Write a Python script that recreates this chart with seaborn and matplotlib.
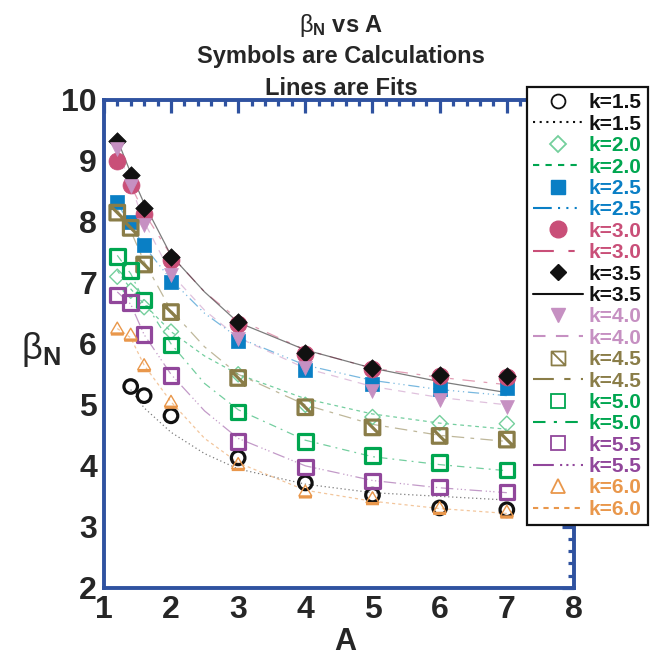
import numpy as np
import pandas as pd
import matplotlib
matplotlib.use("Agg")
import matplotlib.pyplot as plt
from matplotlib.path import Path
from matplotlib.lines import Line2D
from matplotlib.ticker import MultipleLocator
import seaborn as sns

sns.set_style("white")
plt.rcParams['font.family'] = ['Liberation Sans', 'DejaVu Sans']
plt.rcParams['mathtext.fontset'] = 'custom'
plt.rcParams['mathtext.rm'] = 'Liberation Sans'
plt.rcParams['mathtext.bf'] = 'Liberation Sans:bold'
plt.rcParams['mathtext.it'] = 'Liberation Sans:italic'

# ---------------- data ----------------
k_labels = ["k=1.5", "k=2.0", "k=2.5", "k=3.0", "k=3.5",
            "k=4.0", "k=4.5", "k=5.0", "k=5.5", "k=6.0"]
A_pts = [1.2, 1.4, 1.6, 2.0, 3.0, 4.0, 5.0, 6.0, 7.0]
beta_k15 = [np.nan, 5.30, 5.15, 4.82, 4.13, 3.72, 3.52, 3.31, 3.28]
beta_k20 = [7.10, 6.87, 6.60, 6.20, 5.50, 5.00, 4.80, 4.70, 4.69]
beta_k25 = [8.33, 8.00, 7.62, 7.02, 6.05, 5.57, 5.34, 5.26, 5.28]
beta_k30 = [9.00, 8.60, 8.12, 7.38, 6.33, 5.83, 5.58, 5.47, 5.46]
beta_k35 = [9.33, 8.77, 8.23, 7.42, 6.35, 5.85, 5.60, 5.49, 5.47]
beta_k40 = [9.20, 8.58, 7.95, 7.13, 6.08, 5.60, 5.22, 5.08, 4.97]
beta_k45 = [8.15, 7.90, 7.30, 6.52, 5.44, 4.96, 4.63, 4.49, 4.43]
beta_k50 = [7.43, 7.20, 6.72, 5.98, 4.88, 4.40, 4.17, 4.05, 3.93]
beta_k55 = [6.80, 6.68, 6.15, 5.48, 4.40, 3.98, 3.75, 3.65, 3.57]
beta_k60 = [6.25, 6.15, 5.65, 5.05, 4.03, 3.58, 3.47, 3.31, 3.25]

A_fit = [1.2, 1.4, 1.6, 2.0, 2.5, 3.0, 4.0, 5.0, 6.0, 7.0]
fit_k15 = [np.nan, 5.25, 4.95, 4.55, 4.20, 3.95, 3.70, 3.56, 3.50, 3.44]
fit_k20 = [7.20, 6.90, 6.65, 6.20, 5.80, 5.50, 5.10, 4.85, 4.70, 4.60]
fit_k25 = [8.30, 7.95, 7.60, 7.05, 6.50, 6.10, 5.65, 5.40, 5.25, 5.15]
fit_k30 = [9.05, 8.60, 8.15, 7.45, 6.85, 6.40, 5.90, 5.60, 5.45, 5.33]
fit_k35 = [9.35, 8.80, 8.30, 7.45, 6.85, 6.35, 5.90, 5.60, 5.38, 5.20]
fit_k40 = [9.20, 8.60, 8.00, 7.15, 6.55, 6.10, 5.60, 5.30, 5.12, 5.00]
fit_k45 = [8.20, 7.85, 7.35, 6.55, 5.95, 5.50, 5.00, 4.68, 4.50, 4.40]
fit_k50 = [7.45, 7.15, 6.70, 6.00, 5.35, 4.92, 4.42, 4.15, 4.02, 3.92]
fit_k55 = [6.85, 6.65, 6.15, 5.50, 4.90, 4.45, 4.00, 3.76, 3.64, 3.56]
fit_k60 = [6.25, 6.10, 5.65, 5.05, 4.45, 4.05, 3.60, 3.42, 3.30, 3.22]

x_ticks = [1, 2, 3, 4, 5, 6, 7, 8]
y_ticks = [2, 3, 4, 5, 6, 7, 8, 9, 10]

pts = [beta_k15, beta_k20, beta_k25, beta_k30, beta_k35,
       beta_k40, beta_k45, beta_k50, beta_k55, beta_k60]
fits = [fit_k15, fit_k20, fit_k25, fit_k30, fit_k35,
        fit_k40, fit_k45, fit_k50, fit_k55, fit_k60]

# ---------------- styles ----------------
line_colors = ["#111111", "#00a650", "#0a7fc5", "#c94f78", "#111111",
               "#c690c2", "#8a7d48", "#00a650", "#91479b", "#e9974b"]
marker_colors = ["#111111", "#74cf9c", "#0a7fc5", "#c94f78", "#111111",
                 "#c690c2", "#8a7d48", "#00a650", "#91479b", "#e9974b"]
text_colors = ["#111111", "#00a650", "#0a7fc5", "#c94f78", "#111111",
               "#c690c2", "#8a7d48", "#00a650", "#91479b", "#e9974b"]

sq_diag = Path([(-1, -1), (1, -1), (1, 1), (-1, 1), (-1, -1), (-1, 1), (1, -1)],
               [Path.MOVETO, Path.LINETO, Path.LINETO, Path.LINETO, Path.CLOSEPOLY,
                Path.MOVETO, Path.LINETO])
tri_bar = Path([(0, 1), (-1, -0.7), (1, -0.7), (0, 1),
                (-1, -0.85), (1, -0.85), (-1, -1.0), (1, -1.0)],
               [Path.MOVETO, Path.LINETO, Path.LINETO, Path.CLOSEPOLY,
                Path.MOVETO, Path.LINETO, Path.MOVETO, Path.LINETO])

markers = ["o", "D", "s", "o", "D", "v", sq_diag, "s", "s", tri_bar]
leg_markers = ["o", "D", "s", "o", "D", "v", sq_diag, "s", "s", "^"]
filled = [False, False, True, True, True, True, False, False, False, False]
sizes = [95, 60, 110, 150, 80, 100, 110, 110, 110, 85]
leg_sizes = [10, 8, 10, 12, 8, 10, 10, 10, 10, 10]

linestyles = [(0, (1, 2.2)), (0, (3, 3)), (0, (9, 3, 1, 3, 1, 3, 1, 3)),
              (0, (10, 7, 3, 7)), "-", (0, (6, 5)), (0, (10, 5, 3, 5)),
              (0, (6, 4, 1.5, 4)), (0, (10, 3, 1, 2, 1, 2, 1, 3)), (0, (2.5, 2.5))]

# ---------------- figure ----------------
fig = plt.figure(figsize=(6.53, 6.65), dpi=100)
ax = fig.add_axes([0.159, 0.116, 0.720, 0.734])

for i in range(len(k_labels)):
    dfl = pd.DataFrame({"A": A_fit, "beta": fits[i]}).dropna()
    sns.lineplot(data=dfl, x="A", y="beta", ax=ax, color=line_colors[i],
                 linestyle=linestyles[i], linewidth=0.9, alpha=0.55,
                 errorbar=None, sort=False)
for i in range(len(k_labels)):
    dfp = pd.DataFrame({"A": A_pts, "beta": pts[i]}).dropna()
    c = marker_colors[i]
    if filled[i]:
        sns.scatterplot(data=dfp, x="A", y="beta", ax=ax, marker=markers[i],
                        s=sizes[i], color=c, edgecolor=c, linewidth=0.5, zorder=3)
    else:
        lw = 1.0 if i in (1, 9) else 2.3
        sns.scatterplot(data=dfp, x="A", y="beta", ax=ax, marker=markers[i],
                        s=sizes[i], color=c, facecolor="none", edgecolor=c,
                        linewidth=lw, zorder=3)

ax.set_xlim(1, 8)
ax.set_ylim(2, 10)
ax.set_xticks(x_ticks)
ax.set_yticks(y_ticks)
ax.xaxis.set_minor_locator(MultipleLocator(0.2))
ax.yaxis.set_minor_locator(MultipleLocator(0.2))
spine_c = "#2f52a0"
for s in ax.spines.values():
    s.set_color(spine_c)
    s.set_linewidth(2.8)
ax.tick_params(which="both", direction="in", top=True, right=True,
               color=spine_c, width=2.3)
ax.tick_params(which="major", length=9, labelsize=23, pad=5)
ax.tick_params(which="minor", length=4.5)
for lab in ax.get_xticklabels() + ax.get_yticklabels():
    lab.set_fontweight("bold")
ax.set_xlabel("")
ax.set_ylabel("")

fig.text(0.528, 0.012, "A", ha="center", va="bottom", fontsize=22, fontweight="bold")
fig.text(0.062, 0.475, r"$\mathrm{β}_\mathbf{N}$", ha="center", va="center", fontsize=26)

fig.text(0.522, 0.952, r"$\mathrm{β}_\mathbf{N}$ vs A", ha="center", va="baseline",
         fontsize=17, fontweight="bold")
fig.text(0.522, 0.905, "Symbols are Calculations", ha="center", va="baseline",
         fontsize=17, fontweight="bold")
fig.text(0.522, 0.857, "Lines are Fits", ha="center", va="baseline",
         fontsize=17, fontweight="bold")

# ---------------- legend ----------------
handles, labels = [], []
for i in range(len(k_labels)):
    c = marker_colors[i]
    if filled[i]:
        h1 = Line2D([], [], linestyle="none", marker=leg_markers[i], markersize=leg_sizes[i],
                    color=c, markerfacecolor=c, markeredgecolor=c)
    else:
        h1 = Line2D([], [], linestyle="none", marker=leg_markers[i], markersize=leg_sizes[i],
                    markerfacecolor="none", markeredgecolor=c, markeredgewidth=1.3)
    h2 = Line2D([], [], linestyle=linestyles[i], color=line_colors[i], linewidth=1.5)
    handles += [h1, h2]
    labels += [k_labels[i], k_labels[i]]

leg = fig.legend(handles, labels, loc="upper left", bbox_to_anchor=(0.807, 0.869),
                 frameon=True, fancybox=False, framealpha=1.0, labelspacing=0.115,
                 handlelength=2.4, handletextpad=0.25, borderpad=0.3,
                 borderaxespad=0, prop={"weight": "bold", "size": 15})
leg.set_zorder(20)
leg.get_frame().set_edgecolor("#111111")
leg.get_frame().set_linewidth(1.6)
for j, t in enumerate(leg.get_texts()):
    t.set_color(text_colors[j // 2])

fig.savefig("out.png", dpi=100)
